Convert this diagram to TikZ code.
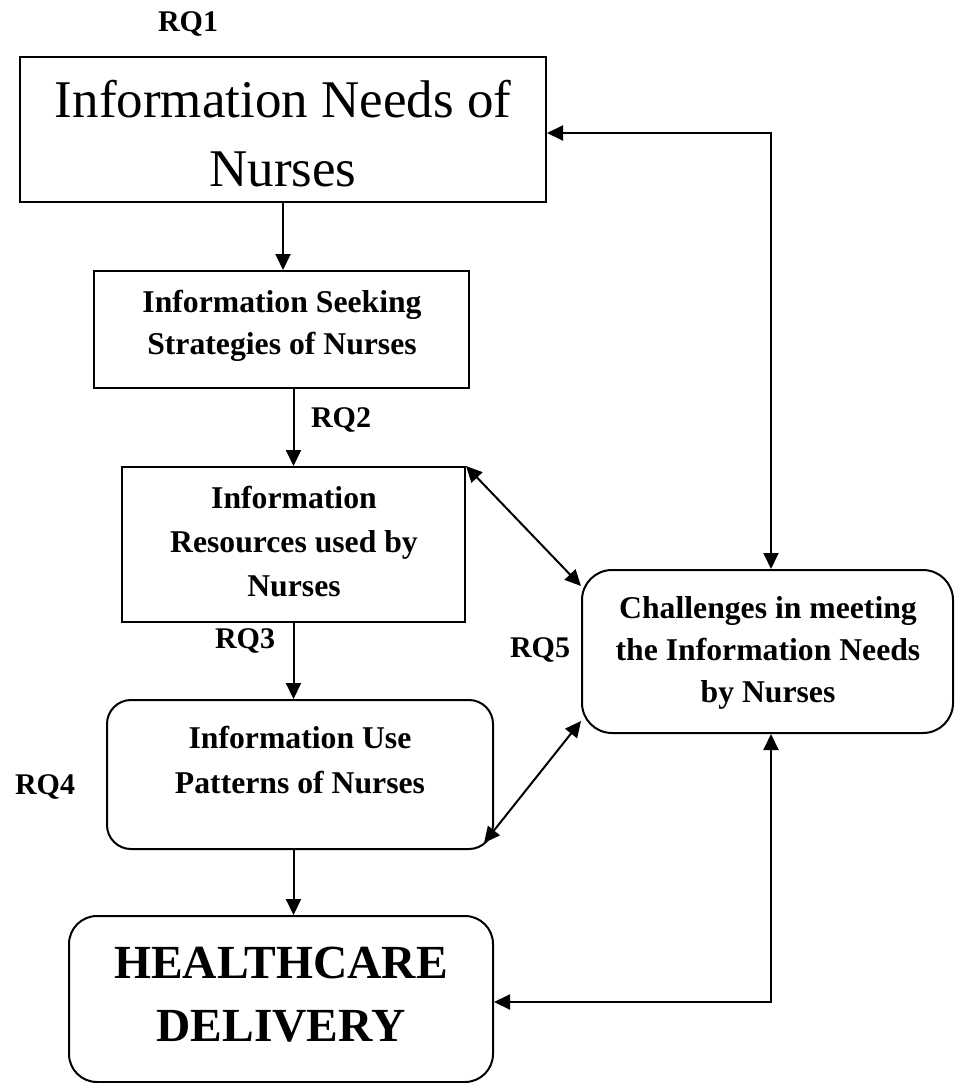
\documentclass[tikz,border=0pt]{standalone}
\usepackage{fontspec}
\setmainfont{Liberation Serif}
\usetikzlibrary{arrows.meta}
\newcommand{\mylines}[1]{\begin{tabular}[t]{@{}c@{}}#1\end{tabular}}
\begin{document}
\begin{tikzpicture}[x=1pt,y=-1pt,
  rbox/.style={draw, line width=2pt, inner sep=0pt, rectangle},
  rrbox/.style={rbox, rounded corners=24pt},
  txtb/.style={font=\fontsize{31.7}{42}\selectfont\bfseries, anchor=base, inner sep=0pt},
  rq/.style={font=\fontsize{30}{36}\selectfont\bfseries, anchor=base, inner sep=0pt},
  tipa/.tip={Triangle[length=16pt,width=15pt]},
  arr/.style={line width=2pt, -tipa},
  arrr/.style={line width=2pt, tipa-tipa}]
\useasboundingbox (0,0) rectangle (954,1083);

% boxes
\node[rbox, minimum width=526pt, minimum height=145pt] (n1) at (283,129.5) {};
\node[rbox, minimum width=375pt, minimum height=117pt] (n2) at (281.5,329.5) {};
\node[rbox, minimum width=343pt, minimum height=155pt] (n3) at (293.5,544.5) {};
\node[rrbox, minimum width=386pt, minimum height=149pt] (n4) at (300,774.5) {};
\node[rrbox, rounded corners=28pt, minimum width=424pt, minimum height=166pt] (n5) at (281,999) {};
\node[rrbox, rounded corners=30pt, minimum width=371pt, minimum height=163pt] (n6) at (767.5,651.5) {};

% texts
\node[anchor=base, inner sep=0pt, font=\fontsize{53}{69}\selectfont] (t1) at (283,118) {\mylines{Information Needs of\\Nurses}};
\node[txtb] (t2) at (282,312) {\mylines{Information Seeking\\Strategies of Nurses}};
\node[txtb, font=\fontsize{31.7}{44}\selectfont\bfseries] (t3) at (294,508) {\mylines{Information\\Resources used by\\Nurses}};
\node[txtb, font=\fontsize{31.7}{45}\selectfont\bfseries] (t4) at (300,748) {\mylines{Information Use\\Patterns of Nurses}};
\node[txtb, font=\fontsize{47.5}{63}\selectfont\bfseries] (t5) at (281,978) {\mylines{HEALTHCARE\\DELIVERY}};
\node[txtb] (t6) at (768,618) {\mylines{Challenges in meeting\\the Information Needs\\by Nurses}};

% labels
\node[rq] (rq1) at (188,32) {RQ1};
\node[rq] (rq2) at (341,427) {RQ2};
\node[rq] (rq3) at (245,648) {RQ3};
\node[rq] (rq4) at (45,794) {RQ4};
\node[rq] (rq5) at (540,657) {RQ5};

% connectors
\draw[arr] (n1.south) -- (n1.south |- n2.north);
\draw[arr] (n3.north |- n2.south) -- (n3.north);
\draw[arr] (n3.south) -- (n3.south |- n4.north);
\draw[arr] (n3.south |- n4.south) -- (n3.south |- n5.north);
\draw[arrr] ([yshift=-3.5pt]n1.east) -| ([xshift=3.5pt]n6.north);
\draw[arrr] ([xshift=3.5pt]n6.south) |- ([yshift=-3pt]n5.east);
\draw[arrr] (n3.north east) -- ([yshift=-17pt]n6.north west);
\draw[arrr] ([xshift=-10pt,yshift=7pt]n4.south east) -- ([yshift=13pt]n6.south west);
\end{tikzpicture}
\end{document}
